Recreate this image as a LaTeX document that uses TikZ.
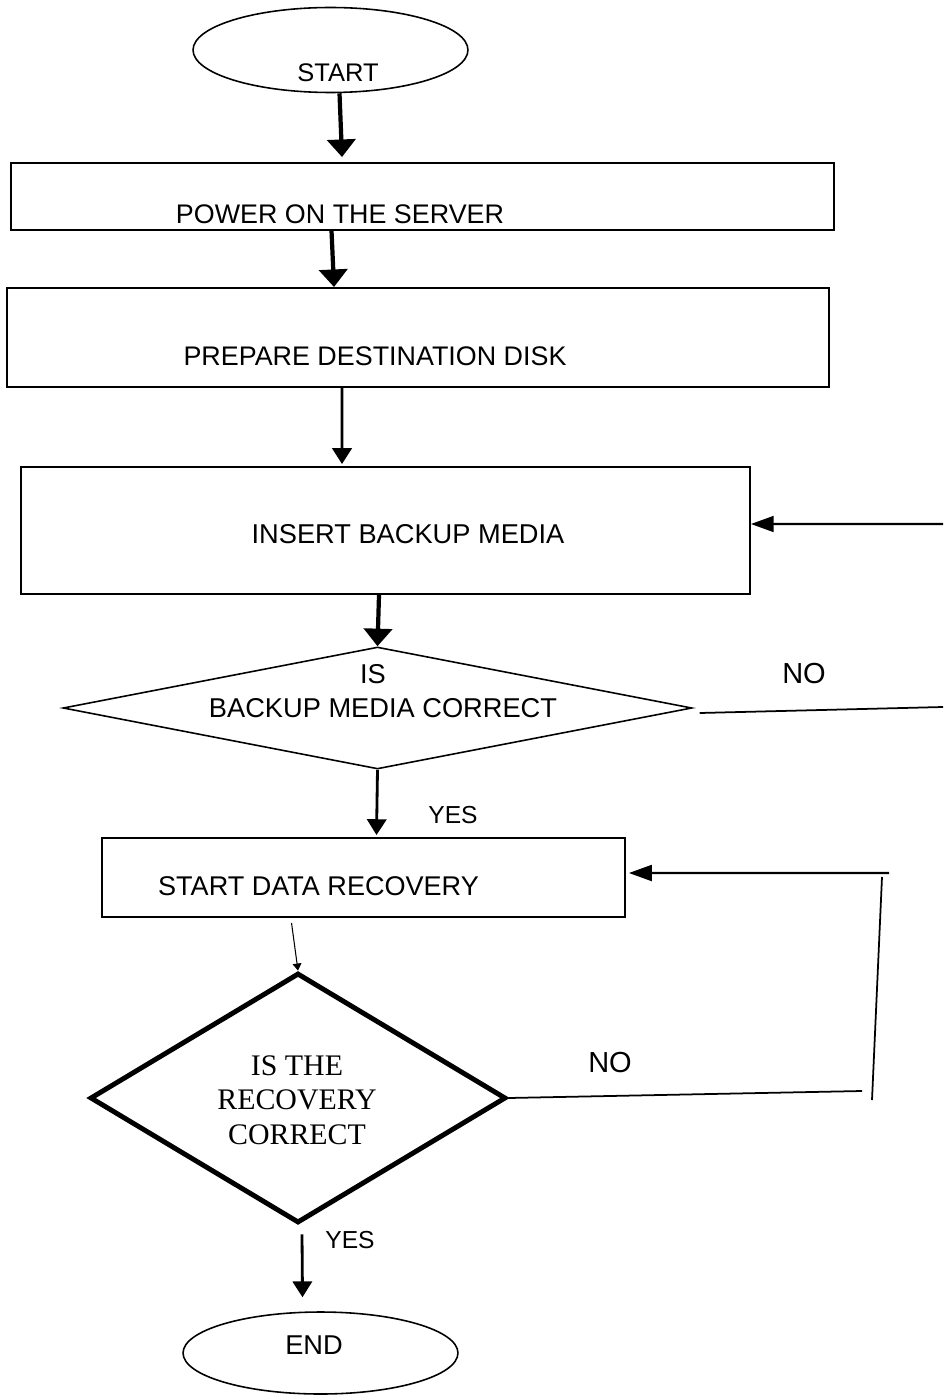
\documentclass[tikz,border=0pt]{standalone}
\usepackage{fontspec}
\setmainfont{Liberation Sans}
\newfontfamily\serifq{Liberation Serif}
\usetikzlibrary{shapes.geometric,arrows.meta}
\tikzset{
  boxq/.style={draw, rectangle, line width=1.1pt, inner sep=0pt},
  ovalq/.style={draw, ellipse, line width=0.9pt, inner sep=0pt, minimum width=5.5cm, minimum height=1.7cm},
  txt/.style={anchor=base, inner sep=0pt, font=\fontsize{15.5}{18}\selectfont},
  bigarrow/.style={line width=2.4pt, -{Triangle[length=10pt,width=16pt]}},
  midarrow/.style={line width=1.6pt, -{Triangle[length=9pt,width=11pt]}},
  sidearrow/.style={line width=1.4pt, -{Triangle[length=13pt,width=9pt]}},
  thinarrow/.style={line width=0.6pt, -{Triangle[length=4pt,width=5pt]}},
  plainline/.style={line width=1pt}
}
\begin{document}
\begin{tikzpicture}[x=0.02cm, y=-0.02cm]
\useasboundingbox (0,0) rectangle (943,1395);
% shapes
\node[ovalq] (start) at (330.5,50) {};
\node[boxq, minimum width=16.46cm, minimum height=1.34cm] (box1) at (422.5,196.5) {};
\node[boxq, minimum width=16.44cm, minimum height=1.98cm] (box2) at (418,337.5) {};
\node[boxq, minimum width=14.58cm, minimum height=2.54cm] (box3) at (385.5,530.5) {};
\node[draw, diamond, line width=0.9pt, inner sep=0pt, minimum width=12.58cm, minimum height=2.44cm] (d1) at (377.5,708) {};
\node[boxq, minimum width=10.46cm, minimum height=1.58cm] (box4) at (363.5,877.5) {};
\node[draw, diamond, line width=2.8pt, inner sep=0pt, minimum width=8.32cm, minimum height=5.0cm] (d2) at (298,1098) {};
\node[ovalq, minimum height=1.64cm] (end) at (320.5,1353) {};
% texts
\node[txt, font=\fontsize{14.5}{17}\selectfont] (tstart) at (338,82) {START};
\node[txt, font=\fontsize{15.3}{17}\selectfont] (tbox1) at (340,224) {POWER ON THE SERVER};
\node[txt, font=\fontsize{15.3}{17}\selectfont] (tbox2) at (375,365) {PREPARE DESTINATION DISK};
\node[txt] (tbox3) at (408,543) {INSERT BACKUP MEDIA};
\node[txt] (tis) at (373,683) {IS};
\node[txt] (td1) at (383,717) {BACKUP MEDIA CORRECT};
\node[txt, font=\fontsize{16.5}{19}\selectfont] (tno1) at (804,683) {NO};
\node[txt, font=\fontsize{14}{16}\selectfont] (tyes1) at (453,823) {YES};
\node[txt, font=\fontsize{15.4}{18}\selectfont] (tbox4) at (318.5,895) {START DATA RECOVERY};
\node[inner sep=0pt, align=center, font=\serifq\fontsize{17}{19.5}\selectfont] (td2) at (297,1100) {IS THE\\RECOVERY\\CORRECT};
\node[txt, font=\fontsize{16.5}{19}\selectfont] (tno2) at (610,1072) {NO};
\node[txt, font=\fontsize{14}{16}\selectfont] (tyes2) at (350,1248) {YES};
\node[txt] (tend) at (314,1354) {END};
% free ends
\coordinate (r1) at (943,524);
\coordinate (r2) at (943,707);
\coordinate (f1) at (889,873);
\coordinate (v1) at (882,877);
\coordinate (v2) at (872,1100);
\coordinate (n2) at (862,1091);
% connectors
\draw[bigarrow] ([xshift=0.18cm]start.south) -- ([xshift=-1.61cm,yshift=0.1cm]box1.north);
\draw[bigarrow] ([xshift=-1.82cm]box1.south) -- ([xshift=-1.68cm]box2.north);
\draw[midarrow] ([xshift=-1.52cm]box2.south) -- ([xshift=-0.87cm,yshift=0.04cm]box3.north);
\draw[bigarrow] ([xshift=-0.13cm]box3.south) -- (d1.north);
\draw[midarrow] (d1.south) -- ([xshift=0.26cm,yshift=0.04cm]box4.north);
\draw[sidearrow] (r1) -- ([yshift=0.13cm]box3.east);
\draw[plainline] ([xshift=0.14cm,yshift=-0.1cm]d1.east) -- (r2);
\draw[sidearrow] (f1) -- ([xshift=0.06cm,yshift=0.09cm]box4.east);
\draw[plainline] (v1) -- (v2);
\draw[plainline] (d2.east) -- (n2);
\draw[thinarrow] ([xshift=-1.44cm,yshift=-0.1cm]box4.south) -- (d2.north);
\draw[midarrow] ([xshift=0.08cm,yshift=-0.18cm]d2.south) -- ([xshift=-0.36cm,yshift=0.28cm]end.north);
\end{tikzpicture}
\end{document}
